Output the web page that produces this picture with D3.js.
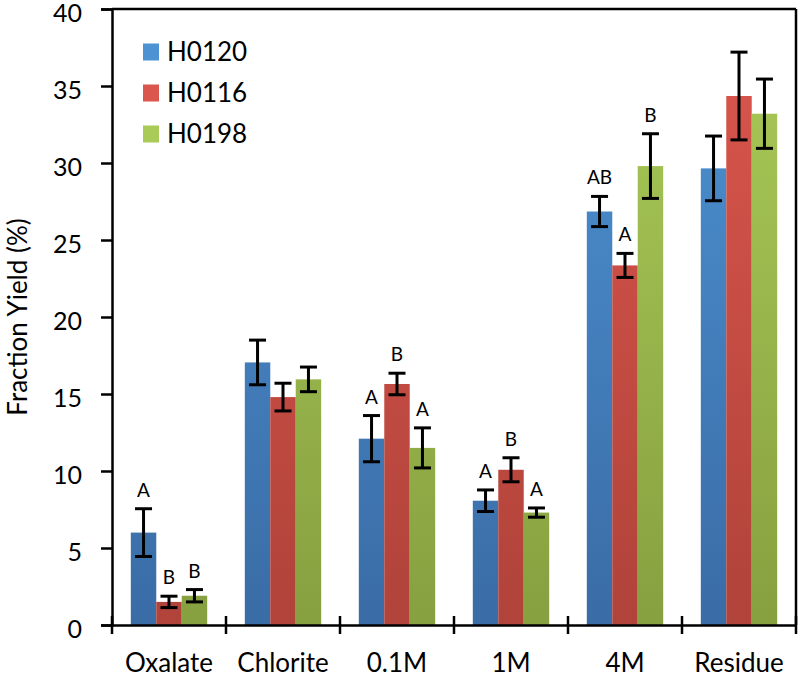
<!DOCTYPE html>
<html>
<head>
<meta charset="utf-8">
<script src="https://cdn.jsdelivr.net/npm/d3@7"></script>
<style>
html,body{margin:0;padding:0;background:#fff;}
svg{display:block;font-family:Lato,"Open Sans",sans-serif;}
</style>
</head>
<body>
<svg id="chart" width="800" height="678"></svg>
<script>
const categories = ["Oxalate","Chlorite","0.1M","1M","4M","Residue"];
const seriesNames = ["H0120","H0116","H0198"];
const H0120 = [6.0, 17.05, 12.1, 8.07, 26.85, 29.65];
const H0116 = [1.5, 14.8, 15.65, 10.08, 23.35, 34.35];
const H0198 = [1.9, 15.95, 11.5, 7.3, 29.8, 33.2];
const H0120err = [1.55, 1.45, 1.5, 0.7, 0.98, 2.1];
const H0116err = [0.37, 0.9, 0.7, 0.78, 0.78, 2.85];
const H0198err = [0.4, 0.8, 1.3, 0.3, 2.1, 2.25];
const H0120sig = ["A", "", "A", "A", "AB", ""];
const H0116sig = ["B", "", "B", "B", "A", ""];
const H0198sig = ["B", "", "A", "A", "B", ""];
const yTicks = [0,5,10,15,20,25,30,35,40];

const values = [H0120, H0116, H0198];
const errs = [H0120err, H0116err, H0198err];
const sigs = [H0120sig, H0116sig, H0198sig];
const colors = [
  {top:"#4d93d3", bot:"#3a6ca6"},
  {top:"#db564d", bot:"#b0433a"},
  {top:"#aacb58", bot:"#87a040"}
];

const svg = d3.select("#chart");
const mLeft = 112, mRight = 796, mTop = 9, mBottom = 625;

const x = d3.scaleBand().domain(categories).range([mLeft, mRight]).paddingInner(0).paddingOuter(0);
const y = d3.scaleLinear().domain([0,40]).range([mBottom, mTop]);

// gradients
const defs = svg.append("defs");
colors.forEach((c,i)=>{
  const gr = defs.append("linearGradient").attr("id","g"+i)
    .attr("gradientUnits","userSpaceOnUse").attr("x1",0).attr("x2",0).attr("y1",mTop).attr("y2",mBottom);
  gr.append("stop").attr("offset","0%").attr("stop-color",c.top);
  gr.append("stop").attr("offset","100%").attr("stop-color",c.bot);
});

// bars
const groupW = x.bandwidth()*0.67;
const barW = groupW/3;
const g = svg.append("g");
seriesNames.forEach((s,si)=>{
  categories.forEach((cat,ci)=>{
    const bx = x(cat) + x.bandwidth()/2 - groupW/2 + si*barW;
    const v = values[si][ci];
    g.append("rect").attr("x",bx).attr("y",y(v)).attr("width",barW).attr("height",y(0)-y(v))
      .attr("fill","url(#g"+si+")");
  });
});
// error bars
seriesNames.forEach((s,si)=>{
  categories.forEach((cat,ci)=>{
    const cx = x(cat) + x.bandwidth()/2 - groupW/2 + si*barW + barW/2;
    const v = values[si][ci], e = errs[si][ci];
    const eg = g.append("g").attr("stroke","#000").attr("stroke-width",3);
    eg.append("line").attr("x1",cx).attr("x2",cx).attr("y1",y(v+e)).attr("y2",y(v-e));
    eg.append("line").attr("x1",cx-8.5).attr("x2",cx+8.5).attr("y1",y(v+e)).attr("y2",y(v+e));
    eg.append("line").attr("x1",cx-8.5).attr("x2",cx+8.5).attr("y1",y(v-e)).attr("y2",y(v-e));
    const lab = sigs[si][ci];
    if(lab){
      g.append("text").attr("x",cx).attr("y",y(v+e)-12).attr("text-anchor","middle")
        .attr("font-size",19).attr("fill","#000").text(lab);
    }
  });
});

// frame top and right
svg.append("line").attr("x1",mLeft).attr("x2",mRight).attr("y1",mTop).attr("y2",mTop).attr("stroke","#000").attr("stroke-width",2.5);
svg.append("line").attr("x1",mRight).attr("x2",mRight).attr("y1",mTop).attr("y2",mBottom).attr("stroke","#000").attr("stroke-width",2.5);

// y axis
const yAxis = svg.append("g").attr("transform",`translate(${mLeft},0)`)
  .call(d3.axisLeft(y).tickValues(yTicks).tickSize(11).tickPadding(19));
yAxis.select(".domain").attr("stroke","#000").attr("stroke-width",2.5);
yAxis.selectAll(".tick line").attr("stroke","#000").attr("stroke-width",2.5);
yAxis.selectAll(".tick text").attr("font-size",25).attr("font-family","Lato").attr("fill","#000").attr("dy","0.5em");

// x axis
const xAxis = svg.append("g").attr("transform",`translate(0,${mBottom})`)
  .call(d3.axisBottom(x).tickSize(0).tickPadding(29));
xAxis.select(".domain").attr("stroke","#000").attr("stroke-width",2.5);
xAxis.selectAll(".tick text").attr("font-size",26).attr("font-family","Lato").attr("fill","#000");
const bounds = categories.map(c=>x(c)).concat([mRight]);
xAxis.selectAll(".bt").data(bounds).enter().append("line").attr("class","bt")
  .attr("x1",d=>d).attr("x2",d=>d).attr("y1",-9).attr("y2",9).attr("stroke","#000").attr("stroke-width",2.5);

// y label
svg.append("text").attr("transform",`translate(27,${(mTop+mBottom)/2}) rotate(-90)`)
  .attr("text-anchor","middle").attr("font-size",26).attr("fill","#000").text("Fraction Yield (%)");

// legend
const lg = svg.append("g");
seriesNames.forEach((s,i)=>{
  const ly = 52 + i*41;
  lg.append("rect").attr("x",143).attr("y",ly-8.5).attr("width",16).attr("height",17).attr("fill",colors[i].top);
  lg.append("text").attr("x",167).attr("y",ly).attr("dy","0.36em").attr("font-size",26).attr("fill","#000").text(s);
});
</script>
</body>
</html>
